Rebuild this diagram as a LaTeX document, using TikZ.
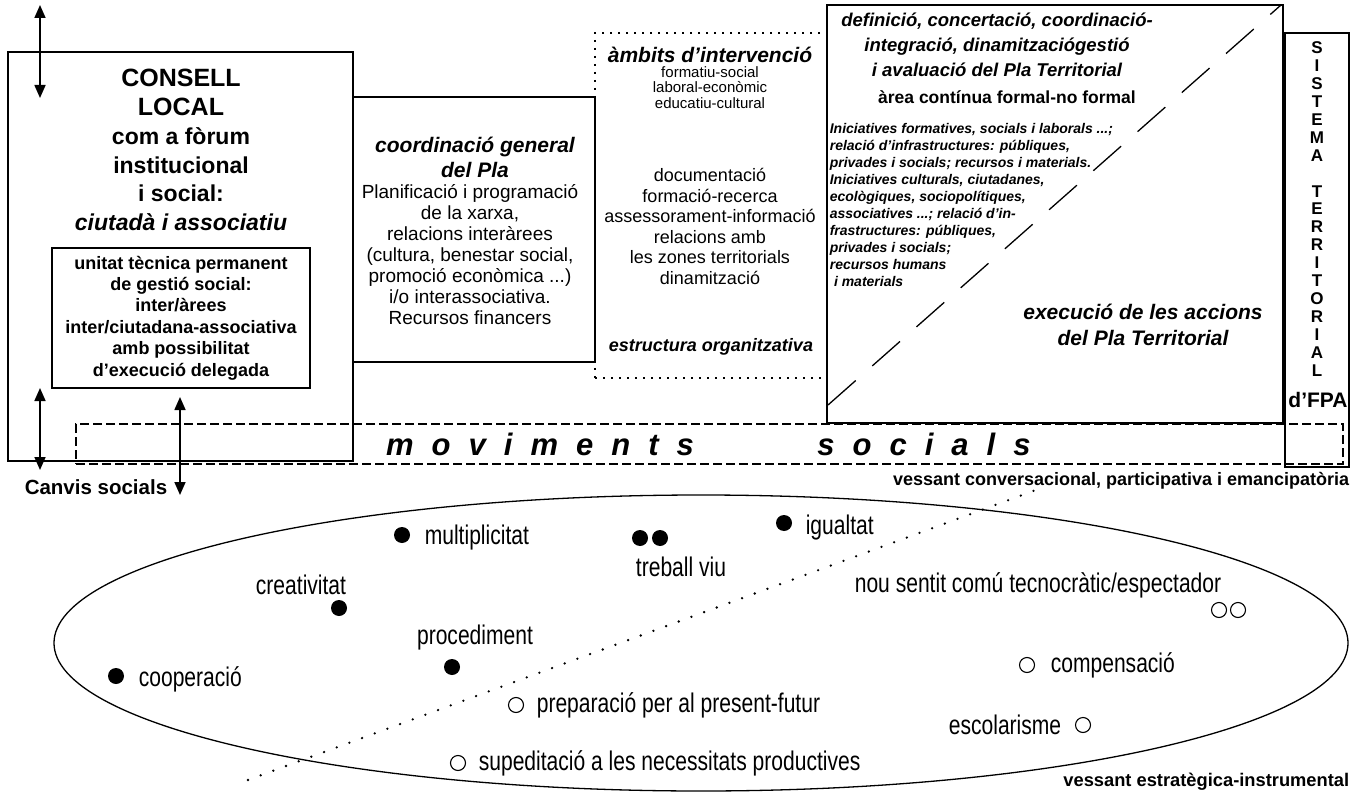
\documentclass[tikz,border=0pt]{standalone}
\usepackage{fontspec}
\setmainfont{Liberation Sans}
\newfontfamily\narrowfont[FakeStretch=0.78]{Liberation Sans}
\usetikzlibrary{arrows.meta}
\newcommand{\setfs}[2]{\fontsize{#1}{#2}\selectfont}

\begin{document}
\begin{tikzpicture}[
                x=1pt, y=-1pt,
                line width=1.6pt,
                solidbox/.style={draw, inner sep=0pt},
                ambitbox/.style={draw, line width=1.8pt, dash pattern=on 1.8pt off 6.2pt, inner sep=0pt},
                bandbox/.style={draw, line width=2pt, dash pattern=on 9pt off 4pt, inner sep=0pt},
                txt/.style={inner sep=0pt, align=center},
                twoway/.style={{Triangle[width=11pt,length=13pt]}-{Triangle[width=11pt,length=13pt]}, line width=1.6pt},
                fullpt/.style={circle, fill=black, minimum size=16pt, inner sep=0pt},
                emptypt/.style={circle, draw, line width=1.1pt, minimum size=15pt, inner sep=0pt},
                lowlbl/.style={inner sep=0pt, font=\narrowfont\setfs{27}{30}}
                ]

\useasboundingbox (0,0) rectangle (1354,794);

                    % consell local
                    \node[solidbox, minimum width=345pt, minimum height=409pt] (CL) at (180.5,256.5) {};
                    \node[txt, font=\setfs{23}{28.8}\bfseries] (CLtxt) at (181,150) {{\setfs{25}{28.8}CONSELL}\\{\setfs{25}{28.8}LOCAL}\\com a fòrum\\institucional\\i social:\\\textit{ciutadà i associatiu}};
                    \node[solidbox, minimum width=258pt, minimum height=140pt, align=center, font=\setfs{18}{21.4}\bfseries] (UT) at (181,318) {unitat tècnica permanent\\de gestió social:\\inter/àrees\\inter/ciutadana-associativa\\amb possibilitat\\d’execució delegada};

                    % coordinacio
                    \node[solidbox, minimum width=242pt, minimum height=265pt] (CG) at (474,229.5) {};
                    \node[txt, font=\setfs{21}{25}\bfseries\itshape] (CGtit) at (475,157.5) {coordinació general\\del Pla};
                    \node[txt, font=\setfs{19}{21}] (CGtxt) at (470,255) {Planificació i programació\\de la xarxa,\\relacions interàrees\\(cultura, benestar social,\\promoció econòmica ...)\\i/o interassociativa.\\Recursos financers};

                    % ambits
                    \node[ambitbox, minimum width=232pt, minimum height=345pt] (AI) at (711,205.5) {};
                    \node[txt, font=\setfs{21}{25}\bfseries\itshape] (AItit) at (710,55) {àmbits d’intervenció};
                    \node[txt, font=\setfs{15}{15.5}] (AIsub) at (710,87.5) {formatiu-social\\laboral-econòmic\\educatiu-cultural};
                    \node[txt, font=\setfs{18}{20.6}] (AIlist) at (710,226.5) {documentació\\formació-recerca\\assessorament-informació\\relacions amb\\les zones territorials\\dinamització};
                    \node[txt, font=\setfs{18}{20}\bfseries\itshape] (AIorg) at (711,347) {estructura organitzativa};

                    % execucio
                    \node[solidbox, minimum width=456pt, minimum height=418pt] (EX) at (1055,214) {};
                    \coordinate (EXd1) at (828,405);
                    \coordinate (EXd2) at (1281,5);
                    \draw[line width=1.3pt, dash pattern=on 37pt off 22pt] (EXd1) -- (EXd2);
                    \node[txt, font=\setfs{18.5}{25}\bfseries\itshape] (EXtit) at (997,45) {definició, concertació, coordinació-\\integració, dinamitzaciógestió\\i avaluació del Pla Territorial};
                    \node[txt, font=\setfs{17.5}{20}\bfseries] (EXarea) at (1007,97) {àrea contínua formal-no formal};
                    \node[txt, align=left, anchor=west, font=\setfs{14}{17}\bfseries\itshape] (EXinic) at (829,204.5) {Iniciatives formatives, socials i laborals ...;\\relació d’infrastructures: públiques,\\privades i socials; recursos i materials.\\Iniciatives culturals, ciutadanes,\\ecològiques, sociopolítiques,\\associatives ...; relació d’in-\\frastructures: públiques,\\privades i socials;\\recursos humans\\\hspace{0.3em}i materials};
                    \node[txt, font=\setfs{21}{26}\bfseries\itshape] (EXacc) at (1143,325) {execució de les accions\\del Pla Territorial};

                    % sistema territorial
                    \node[solidbox, minimum width=64pt, minimum height=434pt] (ST) at (1317,250) {};
                    \node[txt, font=\setfs{17}{17.9}\bfseries] (STtxt) at (1317,209) {S\\I\\S\\T\\E\\M\\A\\[17.9pt]T\\E\\R\\R\\I\\T\\O\\R\\I\\A\\L};
                    \node[txt, font=\setfs{21}{25}\bfseries] (STfpa) at (1318,400) {d’FPA};

                    % moviments socials
                    \node[bandbox, minimum width=1267pt, minimum height=40pt] (MS) at (709.5,444) {};
                    \node[txt, font=\setfs{31}{31}\bfseries\itshape] (MSa) at (540,444) {\spaceskip=18pt m o v i m e n t s};
                    \node[txt, font=\setfs{31}{31}\bfseries\itshape] (MSb) at (924,444) {\spaceskip=18pt s o c i a l s};

                    % fletxes
                    \coordinate (AtopA) at (40,5);
                    \coordinate (AtopB) at (40,98);
                    \coordinate (AlowA) at (40,388);
                    \coordinate (AlowB) at (40,470);
                    \coordinate (AmidA) at (180,397);
                    \coordinate (AmidB) at (180,495);
                    \draw[twoway] (AtopA) -- (AtopB);
                    \draw[twoway] (AlowA) -- (AlowB);
                    \draw[twoway] (AmidA) -- (AmidB);
                    \node[txt, anchor=east, font=\setfs{20.5}{22}\bfseries] (CS) at (168,487) {Canvis socials};

                    % vessants
                    \node[txt, anchor=east, font=\setfs{18}{20}\bfseries] (VC) at (1350,481) {vessant conversacional, participativa i emancipatòria};
                    \node[txt, anchor=east, font=\setfs{18.3}{20}\bfseries] (VE) at (1350,782) {vessant estratègica-instrumental};

                    \draw[line width=1.3pt] (701,643) ellipse [x radius=647, y radius=148];
                    \coordinate (DLa) at (248,780);
                    \coordinate (DLb) at (1036,490);
                    \draw[line width=2.6pt, line cap=round, dash pattern=on 0pt off 13.5pt] (DLa) -- (DLb);

                    % punts
                    \node[fullpt] (Pmult) at (402,535) {};
                    \node[lowlbl, anchor=west] (Lmult) at (424,538) {multiplicitat};
                    \node[fullpt] (Ptreb1) at (640,538) {};
                    \node[fullpt] (Ptreb2) at (660,538) {};
                    \node[lowlbl] (Ltreb) at (681,567) {treball viu};
                    \node[fullpt] (Pigu) at (784,523) {};
                    \node[lowlbl, anchor=west] (Ligu) at (805,528) {igualtat};
                    \node[lowlbl] (Lcrea) at (301,585) {creativitat};
                    \node[fullpt] (Pcrea) at (339,608) {};
                    \node[lowlbl] (Lproc) at (475,638) {procediment};
                    \node[fullpt] (Pproc) at (452,667) {};
                    \node[fullpt] (Pcoop) at (116,676) {};
                    \node[lowlbl, anchor=west] (Lcoop) at (138,679) {cooperació};

                    \node[emptypt] (Pprep) at (516,705) {};
                    \node[lowlbl, anchor=west] (Lprep) at (536,705) {preparació per al present-futur};
                    \node[emptypt] (Psup) at (458,763) {};
                    \node[lowlbl, anchor=west] (Lsup) at (478,763) {supeditació a les necessitats productives};
                    \node[lowlbl, anchor=west] (Lnou) at (854,585) {nou sentit comú tecnocràtic/espectador};
                    \node[emptypt] (Pnou1) at (1219,610) {};
                    \node[emptypt] (Pnou2) at (1238,610) {};
                    \node[emptypt] (Pcomp) at (1027,665) {};
                    \node[lowlbl, anchor=west] (Lcomp) at (1050,665) {compensació};
                    \node[lowlbl, anchor=east] (Lesc) at (1062,725) {escolarisme};
                    \node[emptypt] (Pesc) at (1083,725) {};

\end{tikzpicture}
\end{document}
